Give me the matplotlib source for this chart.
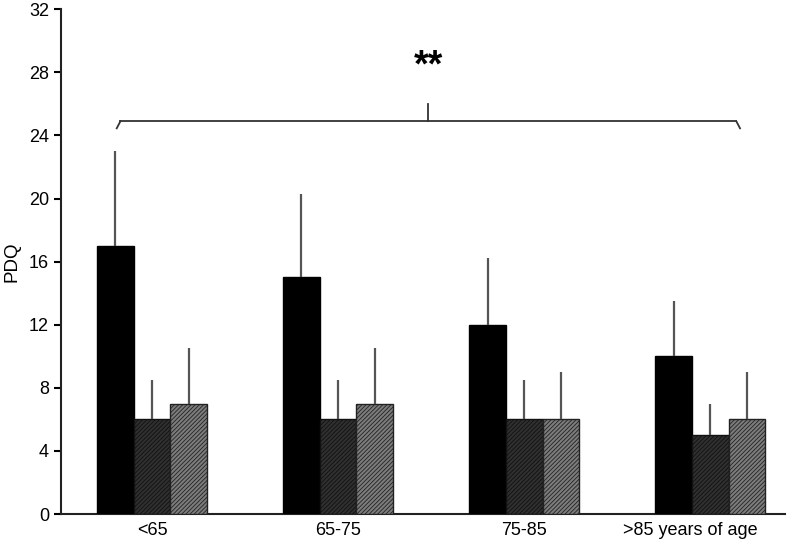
import numpy as np
import matplotlib.pyplot as plt
import matplotlib.transforms as mtransforms

plt.rcParams['font.family'] = ['Liberation Sans', 'DejaVu Sans']
plt.rcParams['hatch.linewidth'] = 0.6

# Data
groups = ['<65', '65-75', '75-85', '>85 years of age']
means_a = [17, 15, 12, 10]
means_b = [6, 6, 6, 5]
means_c = [7, 7, 6, 6]
err_a = [6.0, 5.3, 4.2, 3.5]
err_b = [2.5, 2.5, 2.5, 2.0]
err_c = [3.5, 3.5, 3.0, 3.0]

x = np.arange(len(groups))
w = 0.197

fig = plt.figure(figsize=(7.91, 5.40), dpi=100)
ax = fig.add_axes([0.077, 0.048, 0.915, 0.935])

err_kw = dict(ecolor='#555555', elinewidth=1.6, capsize=0)

ax.bar(x - w, means_a, w, color='black', edgecolor='black', linewidth=1,
       yerr=[np.zeros(4), err_a], error_kw=err_kw, zorder=3)
ax.bar(x, means_b, w, color='#303030', edgecolor='#111111', linewidth=1,
       hatch='////////', yerr=[np.zeros(4), err_b], error_kw=err_kw, zorder=3)
ax.bar(x + w, means_c, w, color='#7c7c7c', edgecolor='#222222', linewidth=1,
       hatch='////////', yerr=[np.zeros(4), err_c], error_kw=err_kw, zorder=3)

# significance brace over all groups
left, right, mid = -0.19, 3.16, 1.485
y0 = 24.9
ax.plot([left, left + 0.02], [24.45, y0], color='#333333', lw=1.3)
ax.plot([right - 0.02, right], [y0, 24.45], color='#333333', lw=1.3)
ax.plot([left + 0.02, right - 0.02], [y0, y0], color='#333333', lw=1.3)
ax.plot([mid, mid], [y0, 26.0], color='#333333', lw=1.3)
ax.text(mid, 27.2, '**', ha='center', va='bottom', fontsize=27, fontweight='bold')

ax.set_xlim(-0.49, 3.40)
ax.set_ylim(0, 32)
ax.set_yticks(np.arange(0, 33, 4))
ax.set_xticks(x)
ax.set_xticklabels(groups)
ax.tick_params(axis='x', length=0, labelsize=13, pad=6)
ax.tick_params(axis='y', length=5, width=1.5, labelsize=13, direction='out')
ax.set_ylabel('PDQ', fontsize=13.5, labelpad=6)

# last label sits a bit left of its bar group in the reference
lbl = ax.get_xticklabels()[-1]
lbl.set_transform(lbl.get_transform() +
                  mtransforms.ScaledTranslation(-0.2, 0, fig.dpi_scale_trans))

for s in ['top', 'right']:
    ax.spines[s].set_visible(False)
for s in ['left', 'bottom']:
    ax.spines[s].set_linewidth(1.5)
    ax.spines[s].set_color('#222222')

fig.savefig('out.png', dpi=100)
